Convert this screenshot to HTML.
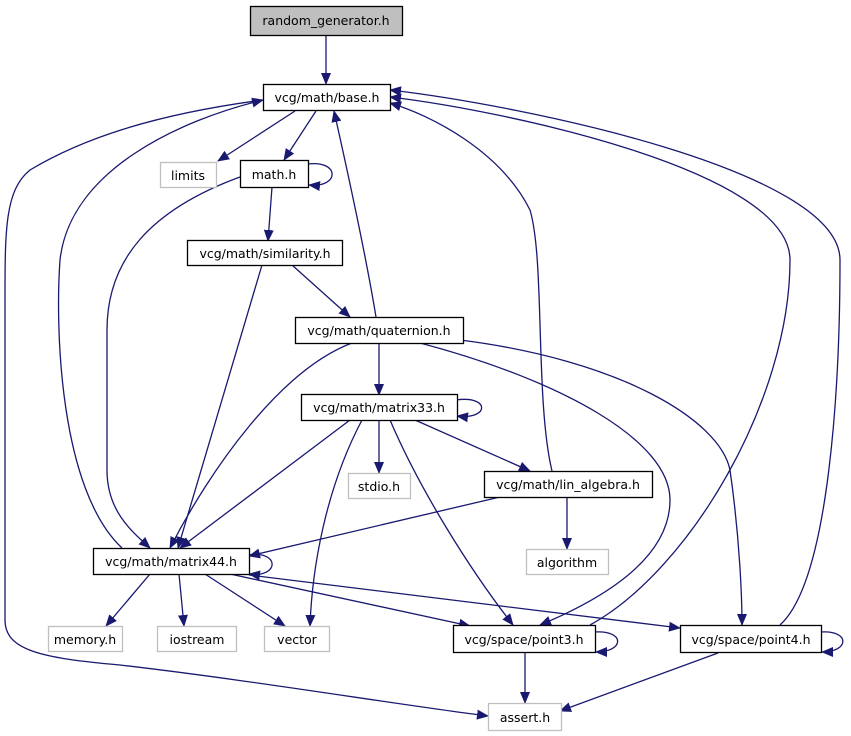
<!DOCTYPE html>
<html><head><meta charset="utf-8"><style>
html,body{margin:0;padding:0;background:#fff;}
svg{display:block;}
text{font-family:"DejaVu Sans","Liberation Sans",sans-serif;font-size:12.5px;fill:#000;}
</style></head><body>
<svg width="851" height="736" viewBox="0 0 851 736" xmlns="http://www.w3.org/2000/svg">
<defs><marker id="a" markerWidth="12" markerHeight="10" refX="11" refY="5" orient="auto" markerUnits="userSpaceOnUse"><path d="M0,0 L12,5 L0,10 z" fill="#191970"/></marker></defs>
<g fill="none" stroke="#191970" stroke-width="1.3" marker-end="url(#a)">
<path d="M326,35 L326,84"/>
<path d="M295,111 L218,161"/>
<path d="M316,111 L284,160"/>
<path d="M263,100 C150,115 80,140 30,170 C5,190 5,230 5,300 L5,620 C5,650 40,658 120,665 C250,680 400,705 488,716"/>
<path d="M308,164 C340,160 340,188 309,185"/>
<path d="M272,187 L268,241"/>
<path d="M240,177 C150,210 107,260 107,330 L107,470 C107,510 130,530 150,548"/>
<path d="M292,265 L350,317"/>
<path d="M262,265 L178,548"/>
<path d="M376,317 C365,250 345,160 334,111"/>
<path d="M379,343 L379,395"/>
<path d="M352,343 C280,370 210,470 170,548"/>
<path d="M420,343 C560,380 670,440 670,500 C670,560 600,600 540,625"/>
<path d="M460,340 C620,360 720,420 730,470 C740,540 742,600 742,625"/>
<path d="M456,400 C490,395 490,420 457,416"/>
<path d="M379,420 L379,473"/>
<path d="M415,420 L530,471"/>
<path d="M350,420 L180,548"/>
<path d="M362,420 C325,490 312,570 310,626"/>
<path d="M390,420 C420,490 470,570 513,625"/>
<path d="M552,471 C535,400 545,260 530,210 C500,150 430,115 390,103"/>
<path d="M567,497 L567,549"/>
<path d="M500,497 L249,556"/>
<path d="M122,548 C60,490 55,330 60,260 C70,170 180,120 263,100"/>
<path d="M248,555 C280,550 280,578 249,574"/>
<path d="M150,574 L106,626"/>
<path d="M179,574 L184,626"/>
<path d="M205,574 L285,626"/>
<path d="M230,574 L470,626"/>
<path d="M249,575 L680,628"/>
<path d="M595,632 C625,630 625,652 596,652"/>
<path d="M590,625 C690,570 790,400 790,260 C790,170 500,110 390,97"/>
<path d="M525,653 L525,703"/>
<path d="M821,632 C850,630 850,652 822,652"/>
<path d="M780,625 C830,580 840,380 840,260 C840,170 520,105 390,90"/>
<path d="M718,653 L560,711"/>
</g>
<g stroke-width="1.3">
<rect x="250.5" y="6.5" width="152" height="29" fill="#bfbfbf" stroke="#000"/>
<rect x="263.5" y="84.5" width="127" height="26" fill="#fff" stroke="#000"/>
<rect x="160.5" y="162.5" width="56" height="25" fill="#fff" stroke="#bfbfbf"/>
<rect x="240.5" y="160.5" width="68" height="27" fill="#fff" stroke="#000"/>
<rect x="187.5" y="240.5" width="155" height="25" fill="#fff" stroke="#000"/>
<rect x="295.5" y="317.5" width="168" height="26" fill="#fff" stroke="#000"/>
<rect x="301.5" y="394.5" width="156" height="26" fill="#fff" stroke="#000"/>
<rect x="348.5" y="473.5" width="62" height="25" fill="#fff" stroke="#bfbfbf"/>
<rect x="484.5" y="471.5" width="168" height="26" fill="#fff" stroke="#000"/>
<rect x="526.5" y="549.5" width="82" height="25" fill="#fff" stroke="#bfbfbf"/>
<rect x="93.5" y="548.5" width="156" height="26" fill="#fff" stroke="#000"/>
<rect x="48.5" y="626.5" width="74" height="25" fill="#fff" stroke="#bfbfbf"/>
<rect x="157.5" y="626.5" width="79" height="25" fill="#fff" stroke="#bfbfbf"/>
<rect x="264.5" y="626.5" width="65" height="25" fill="#fff" stroke="#bfbfbf"/>
<rect x="453.5" y="625.5" width="142" height="27" fill="#fff" stroke="#000"/>
<rect x="680.5" y="625.5" width="141" height="27" fill="#fff" stroke="#000"/>
<rect x="488.5" y="703.5" width="73" height="27" fill="#fff" stroke="#bfbfbf"/>
</g>
<g text-anchor="middle">
<text x="326" y="25">random_generator.h</text>
<text x="327" y="102">vcg/math/base.h</text>
<text x="188" y="180">limits</text>
<text x="274" y="179">math.h</text>
<text x="265" y="258">vcg/math/similarity.h</text>
<text x="379" y="335">vcg/math/quaternion.h</text>
<text x="379" y="412">vcg/math/matrix33.h</text>
<text x="379" y="491">stdio.h</text>
<text x="568" y="489">vcg/math/lin_algebra.h</text>
<text x="567" y="567">algorithm</text>
<text x="171" y="566">vcg/math/matrix44.h</text>
<text x="85" y="644">memory.h</text>
<text x="197" y="644">iostream</text>
<text x="297" y="644">vector</text>
<text x="524" y="644">vcg/space/point3.h</text>
<text x="751" y="644">vcg/space/point4.h</text>
<text x="525" y="722">assert.h</text>
</g>
</svg>
</body></html>
